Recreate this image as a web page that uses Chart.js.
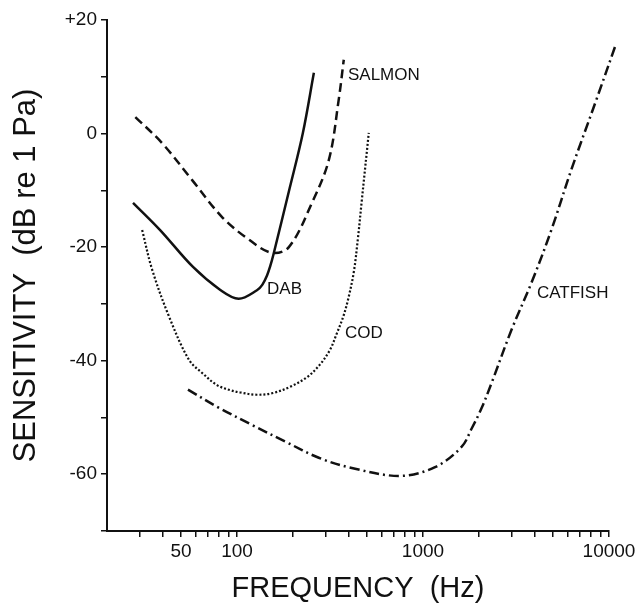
<!DOCTYPE html>
<html lang="en">
<head>
  <meta charset="UTF-8">
  <title>Fish hearing sensitivity</title>
  <script src="https://cdn.jsdelivr.net/npm/chart.js@4.4.1/dist/chart.umd.min.js"></script>
  <style>
    html, body { margin: 0; padding: 0; background: #fff; }
  </style>
</head>
<body>
  <canvas id="fish-chart" width="640" height="603"></canvas>

  <script>
    // values (frequency in Hz, sensitivity in dB re 1 Pa)
    const salmonHz = [28.4, 39.6, 57.4, 83.1, 116, 154, 190, 253, 312, 352, 375];
    const salmonDb = [2.9, -1.7, -8.2, -14.7, -18.7, -21.0, -20.0, -12.2, -4.6, 5.9, 13.0];

    const dabHz = [27.6, 38.6, 58, 81, 102, 128, 137, 145, 151, 157, 192, 226, 259];
    const dabDb = [-12.2, -17.0, -23.5, -27.5, -29.1, -27.6, -26.6, -25.0, -23.3, -21.3, -9.6, 0.1, 10.7];

    const codHz = [30.9, 35.0, 43.2, 55.3, 65.7, 78, 92, 104, 128, 156, 193, 238, 279, 316, 345, 372, 395, 424, 446, 469, 511];
    const codDb = [-17.0, -24.0, -32.3, -39.9, -42.3, -44.3, -45.2, -45.6, -46.0, -45.7, -44.6, -42.9, -40.7, -38.1, -35.1, -32.3, -29.3, -24.5, -18.7, -11.7, 0.1];

    const catfishHz = [54.5, 80, 120, 183, 275, 414, 759, 1169, 1611, 1824, 2063, 2333, 2988, 3826, 4897, 6266, 8433, 10940];
    const catfishDb = [-45.1, -48.3, -51.3, -54.3, -57.1, -58.9, -60.3, -58.7, -55.2, -52.0, -48.4, -44.0, -34.6, -26.3, -17.0, -6.4, 5.4, 15.9];

    // curve names written next to each curve
    const labelNames = ['SALMON', 'DAB', 'COD', 'CATFISH'];
    const labelHz = [395, 145, 381, 4100];
    const labelDb = [10.3, -27.5, -35.1, -28.1];

    // axis ticks
    const xTicks = [30, 40, 50, 60, 70, 80, 90, 100, 200, 300, 400, 500, 600, 700, 800, 900,
                    1000, 2000, 3000, 4000, 5000, 6000, 7000, 8000, 9000, 10000];
    const xLabelled = [50, 100, 1000, 10000];

    const FONT = '"Liberation Sans", Arial, Helvetica, sans-serif';
    const INK = '#111';

    function toPoints(xs, ys) {
      return xs.map((x, i) => ({ x: x, y: ys[i] }));
    }

    function curve(label, xs, ys, dash, width) {
      return {
        label: label,
        data: toPoints(xs, ys),
        borderColor: INK,
        borderWidth: width,
        borderDash: dash,
        pointRadius: 0,
        fill: false,
        tension: 0.35,
        clip: false
      };
    }

    const curveLabels = {
      id: 'curveLabels',
      afterDatasetsDraw(chart) {
        const { ctx, scales: { x, y } } = chart;
        ctx.save();
        ctx.font = '17px ' + FONT;
        ctx.fillStyle = INK;
        ctx.textAlign = 'left';
        ctx.textBaseline = 'middle';
        labelNames.forEach((name, i) => {
          ctx.fillText(name, x.getPixelForValue(labelHz[i]), y.getPixelForValue(labelDb[i]));
        });
        ctx.restore();
      }
    };

    new Chart(document.getElementById('fish-chart'), {
      type: 'line',
      data: {
        datasets: [
          curve('SALMON', salmonHz, salmonDb, [9, 5], 2.5),
          curve('DAB', dabHz, dabDb, [], 2.5),
          curve('COD', codHz, codDb, [2, 2], 2.2),
          curve('CATFISH', catfishHz, catfishDb, [10, 4, 2, 4], 2.5)
        ]
      },
      options: {
        responsive: false,
        animation: false,
        layout: { padding: { top: 20, right: 31, bottom: 0, left: 0 } },
        plugins: {
          legend: { display: false },
          tooltip: { enabled: false }
        },
        scales: {
          x: {
            type: 'logarithmic',
            min: 20,
            max: 10000,
            afterBuildTicks: scale => { scale.ticks = xTicks.map(v => ({ value: v })); },
            afterFit: scale => { scale.height = 72; },
            border: { display: true, color: INK, width: 2 },
            grid: { drawOnChartArea: false, drawTicks: true, tickLength: 6, color: INK, lineWidth: 1.5 },
            ticks: {
              autoSkip: false,
              maxRotation: 0,
              padding: 3,
              color: INK,
              font: { family: FONT, size: 19 },
              callback: v => xLabelled.includes(v) ? String(v) : ''
            },
            title: {
              display: true,
              text: 'FREQUENCY  (Hz)',
              color: INK,
              font: { family: FONT, size: 29, lineHeight: 1 },
              padding: { top: 0, bottom: 0 }
            }
          },
          y: {
            min: -70,
            max: 20,
            afterFit: scale => { scale.width = 107; },
            border: { display: true, color: INK, width: 2 },
            grid: { drawOnChartArea: false, drawTicks: true, tickLength: 6, color: INK, lineWidth: 1.5 },
            ticks: {
              stepSize: 10,
              padding: 4,
              color: INK,
              font: { family: FONT, size: 19 },
              callback: v => v % 20 === 0 ? (v > 0 ? '+' + v : String(v)) : ''
            },
            title: {
              display: true,
              text: 'SENSITIVITY  (dB re 1 Pa)',
              color: INK,
              font: { family: FONT, size: 31, lineHeight: 1.2 },
              padding: { top: 8, bottom: 0 }
            }
          }
        }
      },
      plugins: [curveLabels]
    });
  </script>
</body>
</html>
